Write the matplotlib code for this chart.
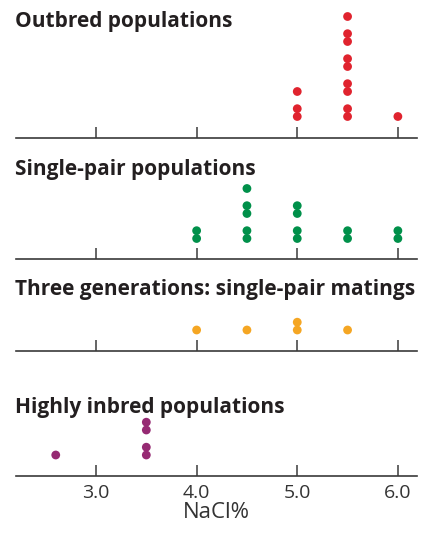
import matplotlib.pyplot as plt

# NaCl concentrations and number of populations at each, per group
outbred_x = [5.0, 5.5, 6.0]
outbred_n = [3, 9, 1]

single_x = [4.0, 4.5, 5.0, 5.5, 6.0]
single_n = [2, 5, 4, 2, 2]

three_x = [4.0, 4.5, 5.0, 5.5]
three_n = [1, 1, 2, 1]

inbred_x = [2.6, 3.5]
inbred_n = [1, 4]

titles = ['Outbred populations', 'Single-pair populations',
          'Three generations: single-pair matings', 'Highly inbred populations']
tick_vals = [3.0, 4.0, 5.0, 6.0]
tick_labels = ['3.0', '4.0', '5.0', '6.0']

plt.rcParams['font.family'] = ['Open Sans', 'DejaVu Sans']

W, H = 425, 536
fig = plt.figure(figsize=(W / 100, H / 100), dpi=100)

panels = [
    (outbred_x, outbred_n, '#e0232e', 137.5, 27),
    (single_x, single_n, '#00904a', 259.5, 175),
    (three_x, three_n, '#f5a623', 351, 295),
    (inbred_x, inbred_n, '#962a73', 476, 413),
]

for i, (xs, ns, color, axis_y, title_y) in enumerate(panels):
    ax = fig.add_axes([16 / W, 1 - axis_y / H, 401 / W, 130 / H])
    ax.set_xlim(2.205, 6.19)
    ax.set_ylim(0, 130)

    # stack dots in pairs above each concentration
    px, py = [], []
    for x, n in zip(xs, ns):
        for k in range(n):
            px.append(x)
            py.append(21 + (k // 2) * 25 + (k % 2) * 7.8)
    ax.scatter(px, py, s=40, color=color, edgecolor='none', clip_on=False, zorder=3)

    for side in ['top', 'left', 'right']:
        ax.spines[side].set_visible(False)
    ax.spines['bottom'].set_color('#3a3a3a')
    ax.spines['bottom'].set_linewidth(1.2)
    ax.set_yticks([])
    ax.set_xticks(tick_vals)
    ax.tick_params(axis='x', direction='in', length=8, width=1.1, color='#3a3a3a',
                   labelsize=14, labelcolor='#333333', pad=6)
    ax.patch.set_visible(False)
    if i < 3:
        ax.set_xticklabels([])
    else:
        ax.set_xticklabels(tick_labels)
        ax.set_xlabel('NaCl%', fontsize=16, color='#333333', labelpad=0)

    fig.text(15 / W, 1 - title_y / H, titles[i], fontsize=15, fontweight='bold',
             color='#231f20', va='baseline', ha='left')

fig.savefig('out.png', dpi=100)
